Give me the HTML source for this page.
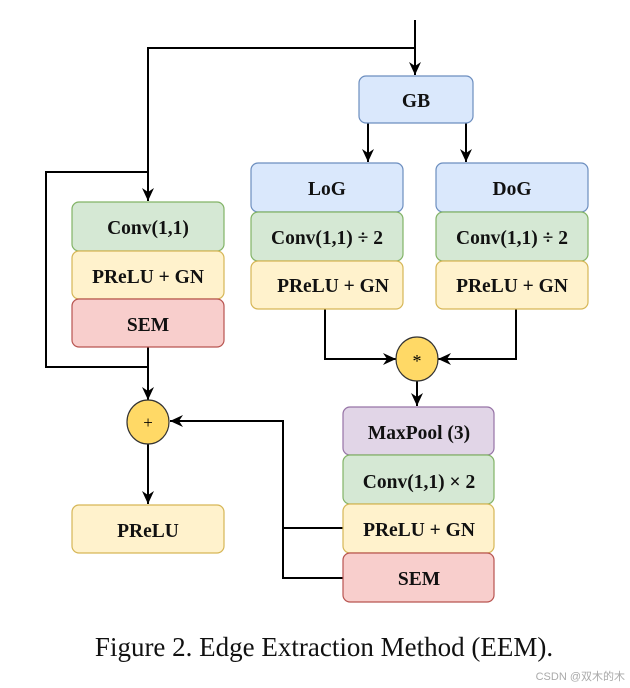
<!DOCTYPE html>
<html><head><meta charset="utf-8"><style>
html,body{margin:0;padding:0;background:#fff;}
svg{display:block;}
text{font-family:"Liberation Serif",serif;}
.b{font-weight:bold;font-size:19.5px;text-anchor:middle;fill:#111;}
</style></head><body>
<svg width="630" height="688" viewBox="0 0 630 688" xmlns="http://www.w3.org/2000/svg">
<defs><marker id="a" markerWidth="14" markerHeight="12" refX="13" refY="6" orient="auto" markerUnits="userSpaceOnUse"><path d="M0,0 L13,6 L0,12 L4,6 Z" fill="#000"/></marker></defs>
<g stroke="#000" stroke-width="2" fill="none">
<path d="M415,20 V75" marker-end="url(#a)"/>
<path d="M415,48 H148 V201" marker-end="url(#a)"/>
<path d="M148,172 H46 V367 H148"/>
<path d="M148,347 V400" marker-end="url(#a)"/>
<path d="M148,443 V504" marker-end="url(#a)"/>
<path d="M368,123 V162" marker-end="url(#a)"/>
<path d="M466,123 V162" marker-end="url(#a)"/>
<path d="M325,308 V359 H396" marker-end="url(#a)"/>
<path d="M516,308 V359 H438" marker-end="url(#a)"/>
<path d="M417,380 V406" marker-end="url(#a)"/>
<path d="M343,528 H283 V421 H170" marker-end="url(#a)"/>
<path d="M343,578 H283 V528"/>
</g>
<g stroke-width="1.2">
<rect x="359" y="76" width="114" height="47" rx="7" fill="#dae8fc" stroke="#6c8ebf"/>
<rect x="251" y="163" width="152" height="49" rx="7" fill="#dae8fc" stroke="#6c8ebf"/>
<rect x="251" y="212" width="152" height="49" rx="7" fill="#d5e8d4" stroke="#82b366"/>
<rect x="251" y="261" width="152" height="48" rx="7" fill="#fff2cc" stroke="#d6b656"/>
<rect x="436" y="163" width="152" height="49" rx="7" fill="#dae8fc" stroke="#6c8ebf"/>
<rect x="436" y="212" width="152" height="49" rx="7" fill="#d5e8d4" stroke="#82b366"/>
<rect x="436" y="261" width="152" height="48" rx="7" fill="#fff2cc" stroke="#d6b656"/>
<rect x="72" y="202" width="152" height="49" rx="7" fill="#d5e8d4" stroke="#82b366"/>
<rect x="72" y="251" width="152" height="48" rx="7" fill="#fff2cc" stroke="#d6b656"/>
<rect x="72" y="299" width="152" height="48" rx="7" fill="#f8cecc" stroke="#b85450"/>
<rect x="72" y="505" width="152" height="48" rx="7" fill="#fff2cc" stroke="#d6b656"/>
<rect x="343" y="407" width="151" height="48" rx="7" fill="#e1d5e7" stroke="#9673a6"/>
<rect x="343" y="455" width="151" height="49" rx="7" fill="#d5e8d4" stroke="#82b366"/>
<rect x="343" y="504" width="151" height="49" rx="7" fill="#fff2cc" stroke="#d6b656"/>
<rect x="343" y="553" width="151" height="49" rx="7" fill="#f8cecc" stroke="#b85450"/>
<ellipse cx="417" cy="359" rx="21" ry="22" fill="#ffd966" stroke="#333"/>
<ellipse cx="148" cy="422" rx="21" ry="22" fill="#ffd966" stroke="#333"/>
</g>
<text class="b" x="416" y="107">GB</text>
<text class="b" x="327" y="195">LoG</text>
<text class="b" x="327" y="244">Conv(1,1) ÷ 2</text>
<text class="b" x="333" y="292">PReLU + GN</text>
<text class="b" x="512" y="195">DoG</text>
<text class="b" x="512" y="244">Conv(1,1) ÷ 2</text>
<text class="b" x="512" y="292">PReLU + GN</text>
<text class="b" x="148" y="234">Conv(1,1)</text>
<text class="b" x="148" y="283">PReLU + GN</text>
<text class="b" x="148" y="331">SEM</text>
<text class="b" x="148" y="537">PReLU</text>
<text class="b" x="419" y="439">MaxPool (3)</text>
<text class="b" x="419" y="488">Conv(1,1) × 2</text>
<text class="b" x="419" y="536">PReLU + GN</text>
<text class="b" x="419" y="585">SEM</text>
<text x="417" y="367" font-size="18" text-anchor="middle">*</text>
<text x="148" y="428" font-size="17" text-anchor="middle">+</text>
<text x="324" y="656" font-size="27" text-anchor="middle" fill="#111">Figure 2. Edge Extraction Method (EEM).</text>
<text x="625" y="680" font-size="11" text-anchor="end" fill="#aaa" style="font-family:'Liberation Sans','Noto Sans CJK SC',sans-serif">CSDN @双木的木</text>
</svg>
</body></html>
